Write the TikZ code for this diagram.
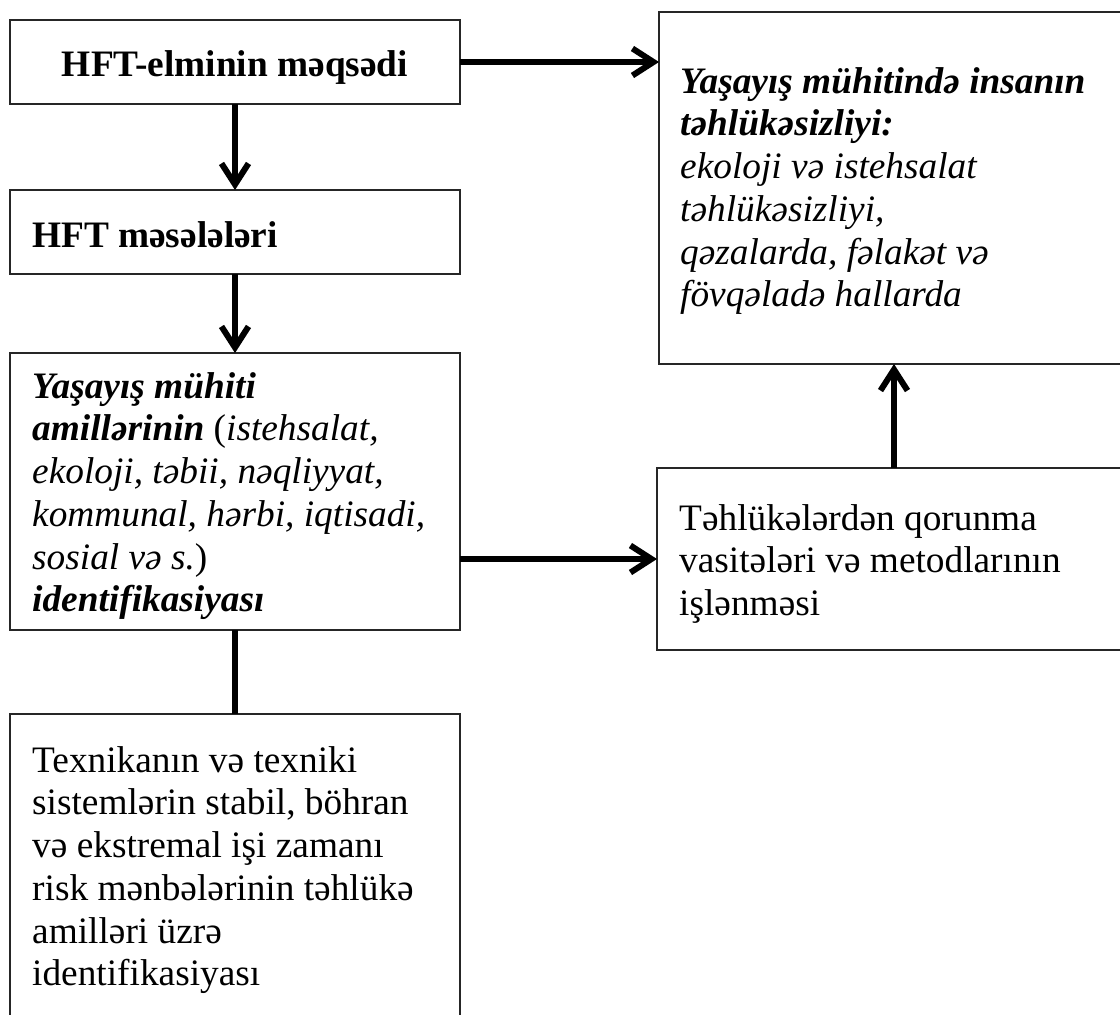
\documentclass[tikz,border=0pt]{standalone}
\usepackage{fontspec}
\setmainfont{Liberation Serif}
\usetikzlibrary{arrows.meta}
\begin{document}
\begin{tikzpicture}[x=1pt,y=-1pt,
  box/.style={draw=black!85, line width=1.6pt, rectangle, inner sep=0pt, outer sep=0pt, anchor=north west},
  txt/.style={inner sep=0pt, align=left, font=\fontsize{37.33}{42.7}\selectfont},
  arr/.style={line width=6pt, -{Straight Barb[length=21pt,width=27pt]}},
  conn/.style={line width=6pt}]
\useasboundingbox (0,0) rectangle (1120,1015);
\clip (0,0) rectangle (1120,1015);
% boxes
\node[box, minimum width=450, minimum height=84] (b1) at (10,20) {};
\node[box, minimum width=450, minimum height=84] (b2) at (10,190) {};
\node[box, minimum width=450, minimum height=277] (b3) at (10,353) {};
\node[box, minimum width=450, minimum height=400] (b4) at (10,714) {};
\node[box, minimum width=470, minimum height=352] (bA) at (659,12) {};
\node[box, minimum width=474, minimum height=182] (b5) at (657,468) {};
% texts
\node[txt, anchor=base] (t1) at (235,76) {\textbf{HFT-elminin məqsədi}};
\node[txt, anchor=base west] (t2) at (32,247) {\textbf{HFT məsələləri}};
\node[txt, anchor=north west] (t3) at (32,368) {\rule{0pt}{30pt}\textbf{\textit{Yaşayış mühiti}}\\
\textbf{\textit{amillərinin}} (\textit{istehsalat,}\\
\textit{ekoloji, təbii, nəqliyyat,}\\
\textit{kommunal, hərbi, iqtisadi,}\\
\textit{sosial və s.})\\
\textbf{\textit{identifikasiyası}}};
\node[txt, anchor=north west] (t4) at (32,742) {\rule{0pt}{30pt}Texnikanın və texniki\\
sistemlərin stabil, böhran\\
və ekstremal işi zamanı\\
risk mənbələrinin təhlükə\\
amilləri üzrə\\
identifikasiyası};
\node[txt, anchor=north west] (tA) at (680,63) {\rule{0pt}{30pt}\textbf{\textit{Yaşayış mühitində insanın}}\\
\textbf{\textit{təhlükəsizliyi:}}\\
\textit{ekoloji və istehsalat}\\
\textit{təhlükəsizliyi,}\\
\textit{qəzalarda, fəlakət və}\\
\textit{fövqəladə hallarda}};
\node[txt, anchor=north west] (t5) at (679,500) {\rule{0pt}{30pt}Təhlükələrdən qorunma\\
vasitələri və metodlarının\\
işlənməsi};
% connectors
\draw[arr] (b1.east) -- (b1.east -| bA.west);
\draw[arr] (b1.south) -- (b2.north);
\draw[arr] (b2.south) -- (b3.north);
\draw[conn] (b3.south) -- (b4.north);
\draw[arr] (b3.east |- b5.west) -- (b5.west);
\draw[arr] (b5.north) -- (b5.north |- bA.south);
\end{tikzpicture}
\end{document}
